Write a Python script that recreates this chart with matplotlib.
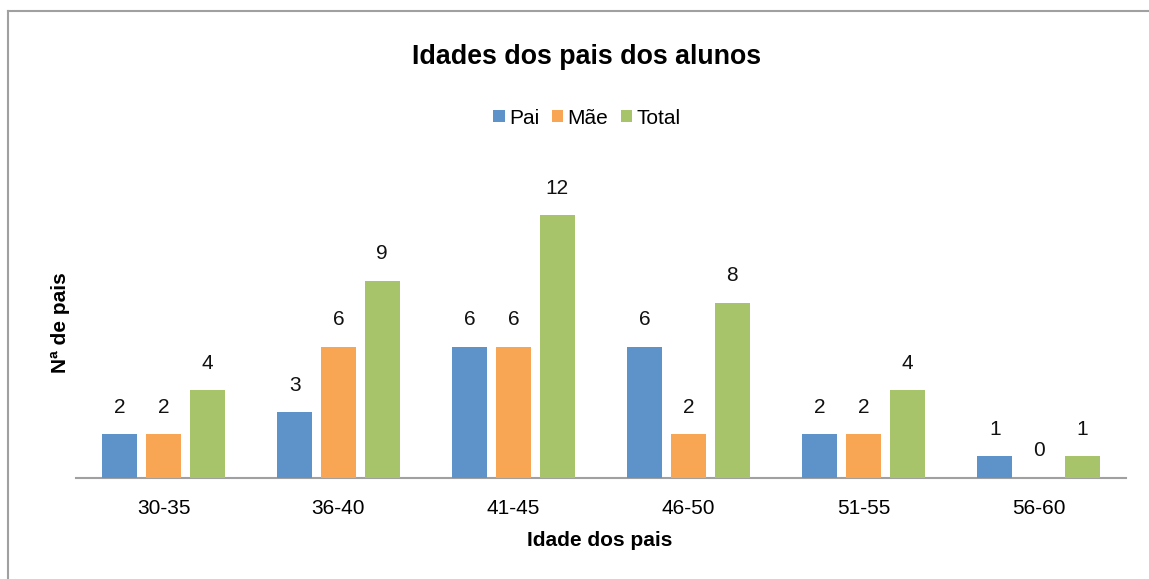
import matplotlib
matplotlib.use("Agg")
import matplotlib.pyplot as plt
import numpy as np
from matplotlib.lines import Line2D
from matplotlib.patches import Patch

categories = ["30-35", "36-40", "41-45", "46-50", "51-55", "56-60"]
pai = [2, 3, 6, 6, 2, 1]
mae = [2, 6, 6, 2, 2, 0]
total = [4, 9, 12, 8, 4, 1]
series_names = ["Pai", "Mãe", "Total"]
colors = ["#5D93C8", "#F9A654", "#A8C46A"]

plt.rcParams['font.family'] = ['Liberation Sans', 'DejaVu Sans']

fig = plt.figure(figsize=(11.49, 5.79), dpi=100)
W, H = 1149, 579
ax = fig.add_axes([76 / W, 1 - 478 / H, 1050 / W, (14 * 21.9) / H])

x = np.arange(len(categories))
w = 0.2
for i, (vals, c) in enumerate(zip([pai, mae, total], colors)):
    off = (i - 1) * 0.25
    ax.bar(x + off, vals, width=w, color=c, zorder=3)
    for xi, v in zip(x + off, vals):
        ax.annotate(str(v), (xi, v), xytext=(0, 19.5), textcoords='offset points',
                    ha='center', va='center', fontsize=15, color='#111111')

ax.set_xlim(-0.5, 5.5)
ax.set_ylim(0, 14)
ax.set_xticks(x)
ax.set_xticklabels(categories, fontsize=15)
ax.tick_params(axis='x', length=0, pad=15)
ax.set_yticks([])
for s in ['top', 'right', 'left']:
    ax.spines[s].set_visible(False)
ax.spines['bottom'].set_color('#A0A0A0')
ax.spines['bottom'].set_linewidth(1.5)

fig.text(600 / W, 1 - 541 / H, "Idade dos pais", ha='center', va='center', fontsize=15, fontweight='bold')
fig.text(60 / W, 1 - 323 / H, "Nª de pais", ha='center', va='center', rotation=90, fontsize=15, fontweight='bold')
fig.text(587 / W, 1 - 57 / H, "Idades dos pais dos alunos", ha='center', va='center', fontsize=19.3, fontweight='bold')

handles = [Patch(facecolor=c, label=n) for c, n in zip(colors, series_names)]
fig.legend(handles=handles, loc='center', bbox_to_anchor=(587 / W, 1 - 118 / H), ncol=3, frameon=False,
           fontsize=15, handlelength=0.55, handleheight=0.55, handletextpad=0.2, columnspacing=0.6)

fig.add_artist(Line2D([7.5 / W, 7.5 / W], [0, 1 - 11 / H], color='#A0A0A0', lw=1.5, transform=fig.transFigure))
fig.add_artist(Line2D([7.5 / W, 1], [1 - 11 / H, 1 - 11 / H], color='#A0A0A0', lw=1.5, transform=fig.transFigure))

fig.savefig("out.png", dpi=100)
